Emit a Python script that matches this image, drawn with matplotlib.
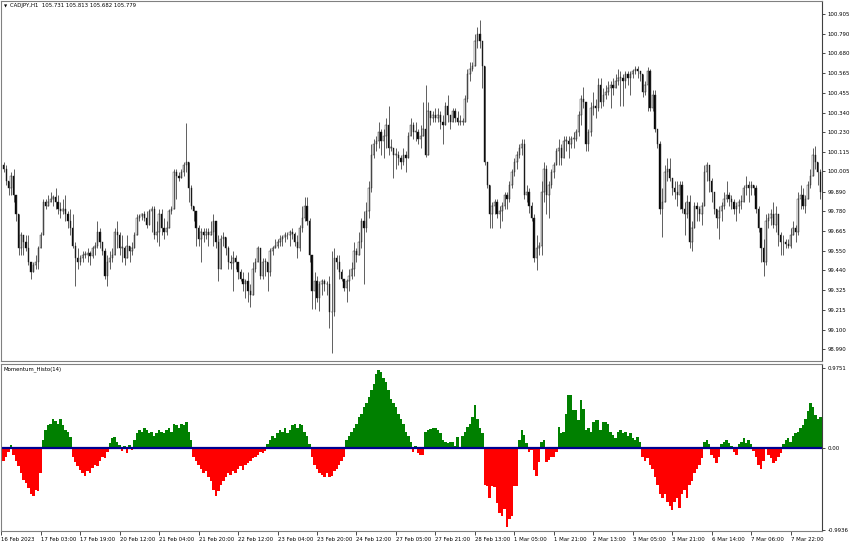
import matplotlib
matplotlib.use("Agg")
import matplotlib.pyplot as plt
import numpy as np

# chart texts
TITLE = "CADJPY,H1  105.731 105.813 105.682 105.779"
IND_TITLE = "Momentum_Histo(14)"

# hourly bars (2-decimal estimates)
closes = [
    100.04, 100.02, 99.95, 99.91, 99.98, 99.87, 99.76, 99.57, 99.64, 99.60,
    99.57, 99.49, 99.43, 99.47, 99.49, 99.57, 99.64, 99.83, 99.81, 99.83,
    99.85, 99.86, 99.83, 99.79, 99.78, 99.79, 99.76, 99.72, 99.68, 99.58,
    99.51, 99.49, 99.51, 99.53, 99.53, 99.54, 99.52, 99.57, 99.58, 99.66,
    99.60, 99.55, 99.41, 99.49, 99.51, 99.53, 99.66, 99.64, 99.57, 99.57,
    99.51, 99.58, 99.55, 99.57, 99.64, 99.74, 99.75, 99.76, 99.74, 99.70,
    99.78, 99.79, 99.64, 99.66, 99.76, 99.68, 99.66, 99.68, 99.78, 99.79,
    100.00, 99.98, 99.97, 100.00, 100.04, 100.06, 99.91, 99.81, 99.78, 99.68,
    99.62, 99.66, 99.64, 99.66, 99.64,
    99.66, 99.72, 99.60, 99.45, 99.62, 99.63, 99.57, 99.49, 99.48, 99.51,
    99.49, 99.43, 99.39, 99.36, 99.38, 99.32, 99.30, 99.45, 99.49, 99.57,
    99.41, 99.49, 99.49, 99.43, 99.55, 99.57, 99.58, 99.60, 99.62, 99.63,
    99.64, 99.64, 99.66, 99.65, 99.60, 99.57, 99.68, 99.74, 99.81, 99.72,
    99.53, 99.32, 99.38, 99.28, 99.36, 99.38, 99.36, 99.36, 99.20, 99.20,
    99.51, 99.49, 99.43, 99.39, 99.34, 99.38, 99.41, 99.45, 99.55, 99.53,
    99.60, 99.72, 99.68, 99.78, 99.91, 100.10, 100.16, 100.18, 100.23, 100.18,
    100.21, 100.27, 100.14, 100.14, 100.10, 100.10, 100.08, 100.06, 100.10, 100.08,
    100.21, 100.27, 100.23,
    100.23, 100.19, 100.21, 100.25, 100.10, 100.35, 100.31, 100.33, 100.31, 100.33,
    100.29, 100.27, 100.38, 100.33, 100.29, 100.35, 100.31, 100.29, 100.29, 100.29,
    100.42, 100.56, 100.59, 100.61, 100.75, 100.79, 100.75, 100.61, 100.06, 99.93,
    99.76, 99.81, 99.83, 99.76, 99.78, 99.81, 99.87, 99.85, 99.93, 100.00,
    100.06, 100.10, 100.14, 100.16, 99.87, 99.89, 99.81, 99.74, 99.51, 99.57,
    99.58, 99.89, 100.02, 99.87, 99.93, 100.00, 100.04, 100.12, 100.14, 100.08,
    100.18, 100.18, 100.16, 100.19, 100.19, 100.23, 100.33, 100.42, 100.40, 100.16,
    100.23, 100.37, 100.38, 100.37, 100.50, 100.40, 100.44, 100.46, 100.48, 100.50,
    100.48, 100.52, 100.54,
    100.54, 100.52, 100.56, 100.54, 100.56, 100.58, 100.59, 100.58, 100.56, 100.46,
    100.50, 100.58, 100.37, 100.44, 100.25, 100.16, 99.79, 99.83, 100.00, 100.02,
    99.97, 99.91, 99.89, 99.87, 99.93, 99.79, 99.76, 99.83, 99.60, 99.68,
    99.81, 99.79, 99.76, 99.81, 100.00, 100.04, 99.95, 99.89, 99.79, 99.74,
    99.78, 99.81, 99.85, 99.87, 99.85, 99.83, 99.79, 99.81, 99.83, 99.83,
    99.91, 99.93, 99.91, 99.93, 99.91, 99.79, 99.68, 99.57, 99.49, 99.72,
    99.74, 99.76, 99.70, 99.76, 99.64, 99.60, 99.60, 99.59, 99.58, 99.64,
    99.68, 99.66, 99.85, 99.87, 99.81, 99.85, 99.93, 99.98, 100.10, 100.06,
    100.00, 99.89,
]

highs = [
    100.06, 100.06, 100.04, 99.95, 100.00, 100.02, 99.83, 99.74, 99.66, 99.64,
    99.64, 99.64, 99.49, 99.49, 99.53, 99.58, 99.66, 99.85, 99.85, 99.87,
    99.89, 99.87, 99.91, 99.87, 99.83, 99.85, 99.87, 99.78, 99.79, 99.76,
    99.60, 99.57, 99.53, 99.55, 99.55, 99.57, 99.55, 99.58, 99.60, 99.72,
    99.68, 99.60, 99.57, 99.53, 99.55, 99.57, 99.68, 99.72, 99.66, 99.64,
    99.58, 99.64, 99.58, 99.60, 99.66, 99.76, 99.76, 99.77, 99.78, 99.78,
    99.79, 99.81, 99.81, 99.72, 99.79, 99.79, 99.74, 99.72, 99.79, 99.81,
    100.02, 100.02, 100.00, 100.02, 100.06, 100.28, 100.00, 99.93, 99.81, 99.76,
    99.70, 99.68, 99.68, 99.68, 99.68,
    99.72, 99.76, 99.72, 99.64, 99.64, 99.66, 99.60, 99.58, 99.53, 99.55,
    99.53, 99.49, 99.45, 99.43, 99.39, 99.43, 99.36, 99.49, 99.51, 99.58,
    99.57, 99.51, 99.51, 99.45, 99.57, 99.58, 99.62, 99.62, 99.64, 99.64,
    99.66, 99.66, 99.67, 99.68, 99.66, 99.64, 99.70, 99.81, 99.86, 99.86,
    99.74, 99.51, 99.43, 99.41, 99.38, 99.39, 99.39, 99.38, 99.41, 99.55,
    99.57, 99.53, 99.53, 99.45, 99.39, 99.39, 99.45, 99.49, 99.60, 99.57,
    99.66, 99.74, 99.78, 99.83, 99.95, 100.16, 100.19, 100.21, 100.29, 100.25,
    100.25, 100.31, 100.38, 100.19, 100.14, 100.14, 100.12, 100.10, 100.14, 100.12,
    100.23, 100.31, 100.29,
    100.29, 100.25, 100.27, 100.40, 100.50, 100.40, 100.35, 100.35, 100.37, 100.37,
    100.35, 100.33, 100.40, 100.44, 100.33, 100.37, 100.37, 100.35, 100.33, 100.31,
    100.44, 100.59, 100.63, 100.63, 100.79, 100.83, 100.87, 100.75, 100.54, 100.06,
    99.93, 99.83, 99.85, 99.85, 99.81, 99.83, 99.89, 99.89, 99.95, 100.02,
    100.08, 100.12, 100.16, 100.19, 100.19, 99.93, 99.91, 99.83, 99.76, 99.64,
    99.60, 99.95, 100.06, 100.04, 99.95, 100.02, 100.06, 100.14, 100.19, 100.16,
    100.21, 100.21, 100.21, 100.21, 100.23, 100.25, 100.35, 100.44, 100.49, 100.38,
    100.25, 100.40, 100.46, 100.42, 100.54, 100.54, 100.48, 100.50, 100.52, 100.52,
    100.54, 100.56, 100.59,
    100.58, 100.56, 100.58, 100.58, 100.58, 100.59, 100.61, 100.61, 100.58, 100.56,
    100.52, 100.60, 100.59, 100.47, 100.47, 100.25, 100.18, 99.91, 100.04, 100.08,
    100.08, 99.97, 99.95, 99.95, 99.95, 99.95, 99.83, 99.87, 99.87, 99.72,
    99.83, 99.83, 99.81, 99.83, 100.04, 100.06, 100.04, 99.97, 99.87, 99.79,
    99.81, 99.83, 99.89, 99.95, 99.89, 99.87, 99.85, 99.83, 99.85, 99.87,
    99.93, 99.98, 99.95, 99.95, 99.93, 99.93, 99.81, 99.68, 99.62, 99.76,
    99.77, 99.79, 99.83, 99.81, 99.76, 99.66, 99.64, 99.62, 99.62, 99.68,
    99.72, 99.70, 99.89, 99.93, 99.91, 99.87, 99.95, 100.02, 100.14, 100.15,
    100.06, 100.02,
]

lows = [
    99.93, 100.00, 99.93, 99.87, 99.87, 99.83, 99.72, 99.53, 99.53, 99.53,
    99.55, 99.47, 99.39, 99.43, 99.45, 99.45, 99.57, 99.76, 99.79, 99.81,
    99.83, 99.81, 99.79, 99.76, 99.74, 99.76, 99.72, 99.68, 99.64, 99.57,
    99.35, 99.45, 99.47, 99.49, 99.51, 99.49, 99.47, 99.51, 99.53, 99.57,
    99.57, 99.53, 99.39, 99.35, 99.45, 99.49, 99.53, 99.57, 99.53, 99.49,
    99.47, 99.53, 99.49, 99.53, 99.57, 99.66, 99.72, 99.73, 99.72, 99.68,
    99.72, 99.66, 99.62, 99.60, 99.58, 99.64, 99.62, 99.64, 99.68, 99.76,
    99.83, 99.85, 99.95, 99.97, 99.98, 100.00, 99.83, 99.79, 99.72, 99.58,
    99.58, 99.49, 99.60, 99.62, 99.58,
    99.64, 99.58, 99.57, 99.38, 99.57, 99.58, 99.53, 99.45, 99.45, 99.32,
    99.45, 99.39, 99.38, 99.32, 99.28, 99.26, 99.23, 99.32, 99.43, 99.49,
    99.39, 99.39, 99.41, 99.32, 99.41, 99.53, 99.57, 99.57, 99.58, 99.58,
    99.60, 99.62, 99.58, 99.62, 99.58, 99.51, 99.55, 99.66, 99.72, 99.70,
    99.49, 99.22, 99.22, 99.26, 99.21, 99.30, 99.32, 99.30, 99.11, 98.97,
    99.18, 99.45, 99.39, 99.38, 99.32, 99.26, 99.32, 99.39, 99.41, 99.49,
    99.53, 99.57, 99.36, 99.66, 99.74, 99.89, 100.08, 100.12, 100.14, 100.10,
    100.08, 100.14, 100.10, 100.12, 99.97, 100.02, 100.04, 100.02, 100.04, 100.00,
    100.08, 100.21, 100.19,
    100.18, 100.16, 100.14, 100.21, 100.09, 100.27, 100.27, 100.29, 100.29, 100.29,
    100.25, 100.16, 100.29, 100.29, 100.25, 100.29, 100.29, 100.27, 100.27, 100.27,
    100.33, 100.40, 100.52, 100.58, 100.61, 100.71, 100.71, 100.48, 100.04, 99.91,
    99.68, 99.68, 99.76, 99.74, 99.68, 99.72, 99.79, 99.79, 99.83, 99.91,
    99.98, 100.02, 100.08, 100.10, 99.85, 99.83, 99.77, 99.72, 99.49, 99.44,
    99.53, 99.53, 99.83, 99.76, 99.74, 99.91, 99.97, 100.04, 100.04, 100.04,
    100.08, 100.12, 100.08, 100.14, 100.14, 100.18, 100.21, 100.27, 100.37, 100.12,
    100.12, 100.21, 100.33, 100.31, 100.35, 100.37, 100.38, 100.42, 100.44, 100.37,
    100.44, 100.48, 100.50,
    100.38, 100.38, 100.48, 100.50, 100.44, 100.54, 100.56, 100.54, 100.52, 100.43,
    100.44, 100.35, 100.35, 100.35, 100.23, 100.14, 99.76, 99.63, 99.83, 99.95,
    99.95, 99.87, 99.85, 99.81, 99.79, 99.77, 99.64, 99.74, 99.57, 99.55,
    99.68, 99.72, 99.72, 99.70, 99.91, 99.95, 99.89, 99.83, 99.76, 99.68,
    99.62, 99.72, 99.79, 99.83, 99.81, 99.79, 99.76, 99.72, 99.77, 99.79,
    99.83, 99.87, 99.83, 99.87, 99.87, 99.77, 99.66, 99.49, 99.41, 99.47,
    99.68, 99.70, 99.68, 99.66, 99.58, 99.53, 99.53, 99.57, 99.57, 99.57,
    99.64, 99.60, 99.64, 99.79, 99.79, 99.77, 99.87, 99.91, 100.00, 100.02,
    99.93, 99.85,
]

# Momentum_Histo(14) values, one per bar
momentum = [
    -0.12, -0.15, -0.10, -0.05, 0.04, -0.08, -0.15, -0.22, -0.30, -0.38,
    -0.42, -0.48, -0.55, -0.58, -0.50, -0.52, -0.30,
    0.10, 0.22, 0.28, 0.30, 0.36, 0.33, 0.30, 0.35, 0.28, 0.22, 0.20, 0.14,
    -0.10, -0.16, -0.22, -0.26, -0.30, -0.33, -0.28, -0.30, -0.24, -0.20,
    -0.22, -0.15, -0.10, -0.12, -0.05,
    0.06, 0.12, 0.14, 0.08, 0.04, -0.03, 0.03, -0.06, 0.04, -0.02,
    0.10, 0.18, 0.22, 0.20, 0.25, 0.22, 0.18, 0.20, 0.15, 0.18,
    0.22, 0.20, 0.18, 0.22, 0.25, 0.20, 0.30, 0.28, 0.25, 0.30,
    0.28, 0.32, 0.20, 0.10,
    -0.10, -0.15, -0.20, -0.25, -0.30, -0.28, -0.35, -0.40, -0.50, -0.58,
    -0.52, -0.45, -0.40, -0.35, -0.30, -0.32, -0.28, -0.30, -0.25, -0.22,
    -0.26, -0.20, -0.18, -0.15, -0.12, -0.10, -0.08, -0.05, -0.06, -0.03,
    0.05, 0.10, 0.15, 0.12, 0.18, 0.22, 0.20, 0.25, 0.18, 0.22,
    0.28, 0.30, 0.25, 0.30, 0.28, 0.20, 0.15, 0.05,
    -0.10, -0.20, -0.25, -0.30, -0.32, -0.35, -0.30, -0.35, -0.33, -0.28,
    -0.25, -0.20, -0.15, -0.10,
    0.10, 0.15, 0.20, 0.25, 0.30, 0.38, 0.42, 0.50, 0.55, 0.62,
    0.70, 0.78, 0.90, 0.95, 0.92, 0.85, 0.80, 0.70, 0.60, 0.55,
    0.50, 0.42, 0.35, 0.30, 0.20, 0.15, 0.08,
    -0.04, 0.03, -0.06,
    -0.08, -0.08, 0.20, 0.22, 0.23, 0.24, 0.24, 0.22, 0.18, 0.10,
    0.08, 0.06, 0.08, 0.08, 0.03, 0.14, -0.01, 0.15, 0.20, 0.26,
    0.30, 0.38, 0.52, 0.35, 0.25, 0.18, -0.44, -0.46, -0.60, -0.46,
    -0.47, -0.66, -0.78, -0.82, -0.74, -0.95, -0.85, -0.82, -0.46, -0.46,
    0.10, 0.22, 0.16, 0.06, -0.04, -0.02, -0.26, -0.34, -0.16, 0.08,
    0.10, -0.16, -0.14, -0.11, -0.10, -0.04, 0.26, 0.18, 0.20, 0.42,
    0.64, 0.64, 0.46, 0.46, 0.34, 0.58, 0.48, 0.22, 0.24, 0.20,
    0.32, 0.34, 0.34, 0.22, 0.32, 0.32, 0.30, 0.20, 0.16, 0.12,
    0.20,
    0.22, 0.18, 0.20, 0.15, 0.18, 0.12, 0.10, 0.14, 0.08,
    -0.10, -0.15, -0.12, -0.20, -0.25, -0.35, -0.45, -0.55, -0.60, -0.55,
    -0.65, -0.70, -0.75, -0.65, -0.60, -0.72, -0.55, -0.50, -0.60, -0.45,
    -0.40, -0.30, -0.25, -0.20, -0.12,
    0.08, 0.10, 0.05, -0.08, -0.12, -0.18, -0.10, 0.05, 0.08, 0.10,
    0.06, 0.03, -0.04, -0.08, 0.05, 0.08, 0.12, 0.06, 0.10, 0.05,
    -0.03, -0.10, -0.20, -0.25, -0.15, 0.02, -0.08, -0.12, -0.18, -0.15,
    -0.10, -0.06, 0.05, 0.10, 0.12, 0.08, 0.15, 0.18,
    0.20, 0.25, 0.28, 0.35, 0.45, 0.55, 0.50, 0.40, 0.35, 0.38,
]

price_ticks = [100.905, 100.790, 100.680, 100.565, 100.455, 100.340, 100.230,
               100.115, 100.005, 99.890, 99.780, 99.665, 99.550, 99.440,
               99.325, 99.215, 99.100, 98.990]
price_labels = ["100.905", "100.790", "100.680", "100.565", "100.455", "100.340",
                "100.230", "100.115", "100.005", "99.890", "99.780", "99.665",
                "99.550", "99.440", "99.325", "99.215", "99.100", "98.990"]
hist_ticks = [0.9751, 0.0, -0.9936]
hist_labels = ["0.9751", "0.00", "-0.9936"]
time_labels = ["16 Feb 2023", "17 Feb 03:00", "17 Feb 19:00", "20 Feb 12:00",
               "21 Feb 04:00", "21 Feb 20:00", "22 Feb 12:00", "23 Feb 04:00",
               "23 Feb 20:00", "24 Feb 12:00", "27 Feb 05:00", "27 Feb 21:00",
               "28 Feb 13:00", "1 Mar 05:00", "1 Mar 21:00", "2 Mar 13:00",
               "3 Mar 05:00", "3 Mar 21:00", "6 Mar 14:00", "7 Mar 06:00",
               "7 Mar 22:00"]
BARS_PER_LABEL = 16

W, H = 852, 547


def box(x0, y0, x1, y1):
    # pixel rectangle -> figure fraction
    return [x0 / W, 1 - y1 / H, (x1 - x0) / W, (y1 - y0) / H]


n = len(closes)
x = np.arange(n)
c = np.array(closes)
o = np.array([closes[0]] + closes[:-1])
hi = np.maximum(np.array(highs), np.maximum(o, c))
lo = np.minimum(np.array(lows), np.minimum(o, c))

fig = plt.figure(figsize=(W / 100, H / 100), dpi=100)
fig.patch.set_facecolor("white")

ax = fig.add_axes(box(1, 0.5, 822, 361))
ax2 = fig.add_axes(box(1, 364, 822, 531), sharex=ax)

# candles
ax.vlines(x, lo, hi, color="#202020", linewidth=0.5)
bull = c >= o
body_lo = np.minimum(o, c)
body_h = np.maximum(np.abs(c - o), 0.004)
ax.bar(x, body_h, bottom=body_lo, width=0.55,
       color=np.where(bull, "white", "black"), edgecolor="#202020", linewidth=0.3)

ax.set_ylim(98.922, 100.982)
ax.set_xlim(-0.1, 332.7)
ax.yaxis.tick_right()
ax.set_yticks(price_ticks)
ax.set_yticklabels(price_labels)
ax.tick_params(axis="y", direction="out", length=2.5, width=0.5, pad=1.5,
               labelsize=3.9, colors="black")
ax.tick_params(axis="x", bottom=False, labelbottom=False)

# histogram
mom = np.array(momentum)
ax2.bar(x, mom, width=1.0, color=np.where(mom >= 0, "#008000", "#ff0000"), linewidth=0)
ax2.axhline(0, color="#000090", linewidth=1.6)
ax2.set_ylim(-1.0007, 1.020)
ax2.yaxis.tick_right()
ax2.set_yticks(hist_ticks)
ax2.set_yticklabels(hist_labels)
ax2.tick_params(axis="y", direction="out", length=2.5, width=0.5, pad=1.5,
                labelsize=3.9, colors="black")
ax2.set_xticks(np.arange(len(time_labels)) * BARS_PER_LABEL)
ax2.set_xticklabels(time_labels)
ax2.tick_params(axis="x", direction="out", length=3, width=0.5, pad=1.5,
                labelsize=3.9, colors="black")
for lab in ax2.get_xticklabels():
    lab.set_horizontalalignment("left")

for a in (ax, ax2):
    for s in a.spines.values():
        s.set_color("#808080")
        s.set_linewidth(0.8)
    a.spines["right"].set_color("#404040")
    a.set_facecolor("white")

fig.text(4 / W, 1 - 6 / H, "\u25bc", fontsize=3, va="center", ha="left")
fig.text(10 / W, 1 - 6 / H, TITLE, fontsize=3.9, va="center", ha="left")
fig.text(3 / W, 1 - 369 / H, IND_TITLE, fontsize=3.9, va="center", ha="left")

fig.savefig("out.png", dpi=100)
